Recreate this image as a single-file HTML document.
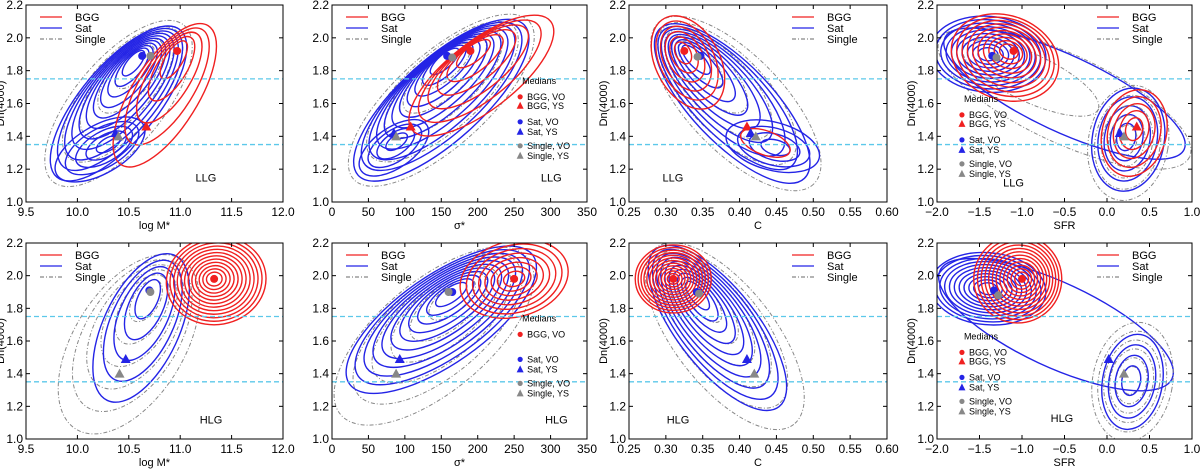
<!DOCTYPE html>
<html><head><meta charset="utf-8">
<style>
html,body{margin:0;padding:0;background:#fff;}
svg{display:block;font-family:"Liberation Sans",Arial,sans-serif;}
</style></head>
<body>
<svg id="fig" width="1200" height="471" viewBox="0 0 1200 471"></svg>
<script>
// ---- data ----
const panelNames = ['llg-logm','llg-sigma','llg-c','llg-sfr','hlg-logm','hlg-sigma','hlg-c','hlg-sfr'];
const groupLabels = ['LLG','LLG','LLG','LLG','HLG','HLG','HLG','HLG'];
const xLabels = ['log M*','σ*','C','SFR','log M*','σ*','C','SFR'];
const xRanges = [[9.5,12],[0,350],[0.25,0.6],[-2,1],[9.5,12],[0,350],[0.25,0.6],[-2,1]];
const xTickLabels = [
 ['9.5','10.0','10.5','11.0','11.5','12.0'],
 ['0','50','100','150','200','250','300','350'],
 ['0.25','0.30','0.35','0.40','0.45','0.50','0.55','0.60'],
 ['−2.0','−1.5','−1.0','−0.5','0.0','0.5','1.0']];
const xTickValues = [
 [9.5,10,10.5,11,11.5,12],[0,50,100,150,200,250,300,350],
 [0.25,0.3,0.35,0.4,0.45,0.5,0.55,0.6],[-2,-1.5,-1,-0.5,0,0.5,1]];
const yTickValues = [1.0,1.2,1.4,1.6,1.8,2.0,2.2];
const yTickLabels = ['1.0','1.2','1.4','1.6','1.8','2.0','2.2'];
const refLines = [1.75,1.35];
// contour blobs: [series, cx, cy, a(px), b(px), angleDeg, peakX, peakY, levels]
const blobs = [
 [['single',10.4,1.6,102,44,50,10.6,1.88,5],['sat',10.4,1.6,96,38,50,10.56,1.87,11],['sat',10.22,1.32,50,24,30,10.32,1.36,5],['bgg',10.85,1.65,82,33,58,10.96,1.92,5]],
 [['single',150,1.62,118,46,42,158,1.88,5],['sat',150,1.62,112,41,42,155,1.88,11],['sat',85,1.33,40,20,35,90,1.38,4],['bgg',205,1.77,88,34,38,192,1.93,6]],
 [['single',0.395,1.6,112,48,-46,0.335,1.9,5],['sat',0.39,1.6,104,40,-46,0.335,1.9,9],['sat',0.445,1.34,48,24,-15,0.45,1.33,4],['bgg',0.33,1.85,50,32,-62,0.322,1.92,6],['bgg',0.435,1.36,26,12,-20,0.44,1.35,1]],
 [['single',-0.5,1.63,138,44,-25,-1.3,1.88,2],['sat',-0.5,1.66,132,38,-25,-0.6,1.68,1],['sat',-1.4,1.9,58,38,-5,-1.4,1.9,10],['sat',0.25,1.38,36,52,-10,0.22,1.4,5],['single',0.25,1.36,40,58,-10,0.22,1.38,5],['bgg',-1.2,1.88,55,42,-20,-1.15,1.92,10],['bgg',0.32,1.42,32,44,-15,0.32,1.45,5]],
 [['single',10.5,1.58,100,55,58,10.7,1.9,6],['sat',10.62,1.68,80,38,65,10.7,1.9,5],['bgg',11.35,1.97,50,44,10,11.33,1.98,12]],
 [['single',140,1.63,122,55,40,170,1.9,6],['sat',150,1.73,112,44,35,165,1.9,11],['bgg',250,1.98,55,38,15,250,1.98,8]],
 [['single',0.38,1.63,112,50,-52,0.345,1.89,6],['sat',0.37,1.68,100,40,-52,0.34,1.9,10],['bgg',0.31,1.98,38,34,0,0.31,1.98,12]],
 [['sat',-0.6,1.7,128,42,-25,-0.7,1.72,1],['sat',-1.4,1.92,58,36,-5,-1.4,1.92,11],['single',0.3,1.35,40,60,-10,0.28,1.36,6],['sat',0.3,1.35,30,48,-10,0.28,1.36,4],['bgg',-1.05,1.98,44,44,0,-1.0,1.98,12]]
];
// medians: [series, shape, x, y]
const medians = [
 [['bgg','o',10.97,1.92],['bgg','t',10.67,1.46],['sat','o',10.63,1.89],['sat','t',10.37,1.42],['single','o',10.71,1.89],['single','t',10.4,1.40]],
 [['bgg','o',190,1.92],['bgg','t',108,1.46],['sat','o',158,1.89],['sat','t',85,1.42],['single','o',165,1.88],['single','t',88,1.40]],
 [['bgg','o',0.325,1.92],['bgg','t',0.41,1.46],['sat','o',0.347,1.89],['sat','t',0.415,1.42],['single','o',0.343,1.885],['single','t',0.422,1.40]],
 [['bgg','o',-1.1,1.92],['bgg','t',0.35,1.46],['sat','o',-1.35,1.89],['sat','t',0.15,1.42],['single','o',-1.3,1.88],['single','t',0.2,1.40]],
 [['bgg','o',11.33,1.98],['sat','o',10.7,1.91],['sat','t',10.47,1.49],['single','o',10.71,1.90],['single','t',10.41,1.40]],
 [['bgg','o',250,1.98],['sat','o',165,1.90],['sat','t',93,1.49],['single','o',160,1.90],['single','t',88,1.40]],
 [['bgg','o',0.31,1.98],['sat','o',0.342,1.90],['sat','t',0.41,1.49],['single','o',0.345,1.89],['single','t',0.42,1.40]],
 [['bgg','o',-1.0,1.98],['sat','o',-1.33,1.91],['sat','t',0.02,1.49],['single','o',-1.28,1.88],['single','t',0.2,1.40]]
];
const legendSide = ['left','left','right','right','left','left','right','right'];
const mediansLegend = [null,'right',null,'left',null,'right',null,'left'];
const mediansTitleY = [0,1.72,0,1.61,0,1.72,0,1.61];
const groupLabelX = [0.70,0.86,0.17,0.30,0.72,0.88,0.19,0.49];
const groupLabelY = [1.15,1.15,1.15,1.12,1.12,1.12,1.12,1.13];
const showYLabel = [true,false,true,true,true,false,true,true];

// ---- layout ----
const lefts=[26,332,629,937], widths=[257,255,258,255];
const tops=[5,243], heights=[197,196];
const colors={bgg:'#f02020',sat:'#2424e6',single:'#888888'};
const legendGaps=[9,16,10,14,10];
const NS='http://www.w3.org/2000/svg';
const svg=document.getElementById('fig');
function mk(tag,attrs,parent,text){const e=document.createElementNS(NS,tag);for(const k in attrs)e.setAttribute(k,attrs[k]);if(text!==undefined)e.textContent=text;parent.appendChild(e);return e;}

for(let p=0;p<8;p++){
 const col=p%4,row=Math.floor(p/4);
 const L=lefts[col],T=tops[row],W=widths[col],H=heights[row];
 const [x0,x1]=xRanges[p];
 const sx=v=>L+(v-x0)/(x1-x0)*W, sy=v=>T+H-(v-1.0)/1.2*H;
 const g=mk('g',{},svg);
 
 
 const clipId='c'+p;
 const cp=mk('clipPath',{id:clipId},g);mk('rect',{x:L,y:T,width:W,height:H},cp);
 const plot=mk('g',{'clip-path':'url(#'+clipId+')'},g);
 blobs[p].forEach((b)=>{
  const [s,cx,cy,a,bb,ang,px,py,n]=b;
  for(let k=0;k<n;k++){
   const t=k/n;
   const ccx=sx(cx)+(sx(px)-sx(cx))*t, ccy=sy(cy)+(sy(py)-sy(cy))*t;
   const e=mk('ellipse',{cx:ccx,cy:ccy,rx:Math.max(2,a*(1-t*0.92)),ry:Math.max(1.5,bb*(1-t*0.92)),transform:`rotate(${-ang} ${ccx} ${ccy})`,fill:'none',stroke:colors[s],'stroke-width':s==='single'?1:1.4,'stroke-dasharray':s==='single'?'4 2 1 2':'none'},plot);
   
   
  }
 });
 refLines.forEach(v=>{const l=mk('line',{x1:L,x2:L+W,y1:sy(v),y2:sy(v),stroke:'#5cc8ea','stroke-width':1.3,'stroke-dasharray':'5 3'},plot);
  
  });
 medians[p].forEach(m=>{
  const [s,sh,mx,my]=m;const X=sx(mx),Y=sy(my);let e;
  if(sh==='o')e=mk('circle',{cx:X,cy:Y,r:4,fill:colors[s]},plot);
  else e=mk('polygon',{points:`${X},${Y-5} ${X-5},${Y+4} ${X+5},${Y+4}`,fill:colors[s]},plot);
  
  
 });
 const fr=mk('rect',{x:L,y:T,width:W,height:H,fill:'none',stroke:'#000','stroke-width':1},g);
 
 
 xTickValues[col].forEach((v,i)=>{
  const X=sx(v);
  mk('line',{x1:X,x2:X,y1:T+H,y2:T+H-4,stroke:'#000'},g);
  mk('line',{x1:X,x2:X,y1:T,y2:T+4,stroke:'#000'},g);
  const tx=mk('text',{x:X,y:T+H+14,'font-size':12,'text-anchor':'middle'},g,xTickLabels[col][i]);
  
  
 });
 yTickValues.forEach((v,i)=>{
  const Y=sy(v);
  mk('line',{x1:L,x2:L+4,y1:Y,y2:Y,stroke:'#000'},g);
  mk('line',{x1:L+W,x2:L+W-4,y1:Y,y2:Y,stroke:'#000'},g);
  const tx=mk('text',{x:L-3,y:Y+4,'font-size':12,'text-anchor':'end'},g,yTickLabels[i]);
  
  
 });
 const xl=mk('text',{x:L+W/2,y:T+H+27,'font-size':11,'text-anchor':'middle'},g,xLabels[p]);
 
 
 if(showYLabel[p]){
  const yl=mk('text',{x:0,y:0,'font-size':11,'text-anchor':'middle',transform:`translate(${L-22},${T+H/2}) rotate(-90)`},g,'Dn(4000)');
  
  
 }
 const gl=mk('text',{x:L+W*groupLabelX[p],y:sy(groupLabelY[p])+4,'font-size':11,'text-anchor':'middle'},g,groupLabels[p]);
 
 
 const lx=legendSide[p]==='left'?L+14:L+W-95;
 ['bgg','sat','single'].forEach((s,i)=>{
  const Y=T+16+i*11;
  mk('line',{x1:lx,x2:lx+22,y1:Y-4,y2:Y-4,stroke:colors[s],'stroke-width':1.3,'stroke-dasharray':s==='single'?'4 2 1 2':'none'},g);
  const t=mk('text',{x:lx+35,y:Y,'font-size':11},g,['BGG','Sat','Single'][i]);
  
  
 });
 if(mediansLegend[p]){
  const mx=mediansLegend[p]==='right'?L+W*0.73:L+W*0.09;
  const ty=sy(mediansTitleY[p]);
  const hdr=mk('text',{x:mx+4,y:ty,'font-size':9},g,'Medians');
  
  
  const entries=[['bgg','o','BGG, VO'],['bgg','t','BGG, YS'],['sat','o','Sat, VO'],['sat','t','Sat, YS'],['single','o','Single, VO'],['single','t','Single, YS']];
  let Y=ty+16;
  entries.forEach((en,i)=>{
   const [s,sh,lab]=en;
   if(!(p===5&&i===1)){
    if(sh==='o')mk('circle',{cx:mx+2,cy:Y-3,r:2.6,fill:colors[s]},g);
    else mk('polygon',{points:`${mx+2},${Y-7} ${mx-1.5},${Y} ${mx+5.5},${Y}`,fill:colors[s]},g);
    const t=mk('text',{x:mx+9,y:Y,'font-size':9},g,lab);
    
    
   }
   if(i<legendGaps.length)Y+=legendGaps[i];
  });
 }
}
</script>
</body></html>
